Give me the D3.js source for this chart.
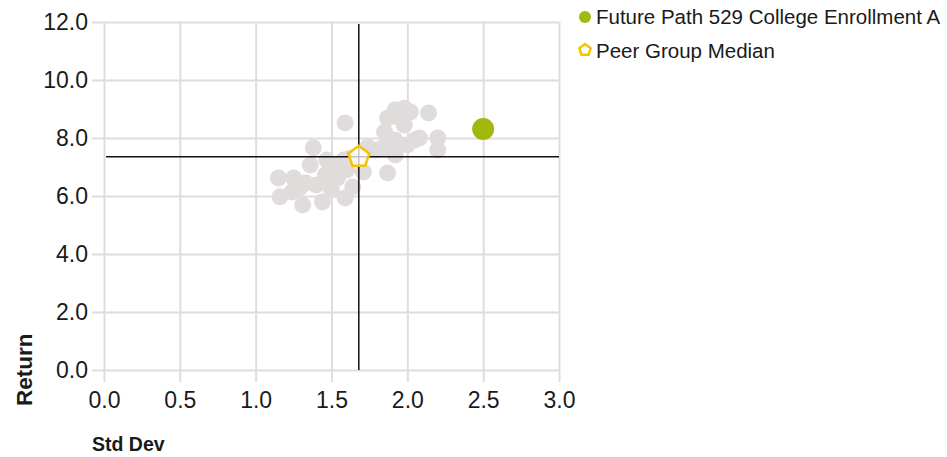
<!DOCTYPE html>
<html>
<head>
<meta charset="utf-8">
<script src="https://cdn.jsdelivr.net/npm/d3@7"></script>
<style>
  html, body { margin: 0; padding: 0; background: #fff; }
  svg text { font-family: "Liberation Sans", Arial, Helvetica, sans-serif; fill: #1a1a1a; }
</style>
</head>
<body>
<svg id="chart" width="947" height="457"></svg>
<script>
// Risk / return scatter: peer funds, the fund itself, and the peer median.
const xTicks = [0.0, 0.5, 1.0, 1.5, 2.0, 2.5, 3.0];
const yTicks = [0.0, 2.0, 4.0, 6.0, 8.0, 10.0, 12.0];

const peerStdDev = [
  2.14, 2.20, 2.20, 1.87, 2.08, 1.92, 1.98, 1.95, 1.87, 1.85, 1.92, 1.91, 2.00, 1.84,
  1.79, 1.92, 2.05, 2.02, 1.98, 1.74, 1.71, 1.64, 1.59, 1.47, 1.51, 1.50, 1.59, 1.60,
  1.38, 1.36, 1.15, 1.25, 1.16, 1.24, 1.31, 1.29, 1.40, 1.44, 1.54, 1.46, 1.58, 1.33,
  1.55, 1.62
];
const peerReturn = [
  8.86, 8.00, 7.59, 6.79, 8.00, 8.97, 9.03, 8.69, 8.69, 8.21, 7.93, 7.52, 7.76, 7.66,
  7.59, 7.41, 7.93, 8.90, 8.45, 7.69, 6.83, 6.31, 8.52, 7.24, 6.79, 6.21, 5.93, 6.90,
  7.66, 7.07, 6.62, 6.62, 5.97, 6.14, 5.69, 6.28, 6.38, 5.79, 6.62, 6.72, 7.24, 6.45,
  7.05, 7.30
];

const fundName = "Future Path 529 College Enrollment A";
const fundStdDev = 2.50;
const fundReturn = 8.31;

const medianName = "Peer Group Median";
const medianStdDev = 1.68;
const medianReturn = 7.35;

const svg = d3.select("#chart");
const margin = { left: 104, top: 22, right: 388, bottom: 87 };
const W = 947, H = 457;

const x = d3.scaleLinear().domain([0, 3]).range([margin.left, W - margin.right]);
const y = d3.scaleLinear().domain([0, 12]).range([H - margin.bottom, margin.top]);

const gridColor = "#dddddd";
const tickOut = 12;

// Gridlines extend past the plot as tick marks
const xAxis = d3.axisBottom(x).tickValues(xTicks).tickFormat(d3.format(".1f"))
  .tickSize(-(y(0) - y(12)) - tickOut).tickSizeOuter(0).tickPadding(10);
svg.append("g")
  .attr("transform", `translate(0,${y(0) + tickOut})`)
  .call(xAxis)
  .call(g => g.select(".domain").remove())
  .call(g => g.selectAll("line").attr("stroke", gridColor).attr("stroke-width", 2))
  .call(g => g.selectAll("text").attr("font-size", 23).attr("fill", "#1a1a1a"));

const yAxis = d3.axisLeft(y).tickValues(yTicks).tickFormat(d3.format(".1f"))
  .tickSize(-(x(3) - x(0)) - tickOut).tickSizeOuter(0).tickPadding(4);
svg.append("g")
  .attr("transform", `translate(${x(0) - tickOut},0)`)
  .call(yAxis)
  .call(g => g.select(".domain").remove())
  .call(g => g.selectAll("line").attr("stroke", gridColor).attr("stroke-width", 2))
  .call(g => g.selectAll("text").attr("font-size", 23).attr("fill", "#1a1a1a"));

// Axis titles
svg.append("text")
  .attr("x", 92).attr("y", 451)
  .attr("font-size", 19.5).attr("font-weight", "bold")
  .text("Std Dev");
svg.append("text")
  .attr("transform", `translate(32,406) rotate(-90)`)
  .attr("font-size", 22.5).attr("font-weight", "bold")
  .text("Return");

// Peer funds
const peers = peerStdDev.map((s, i) => ({ s, r: peerReturn[i] }));
svg.append("g").selectAll("circle").data(peers).join("circle")
  .attr("cx", d => x(d.s)).attr("cy", d => y(d.r)).attr("r", 8.5)
  .attr("fill", "#e0dcdb");

// Median crosshair
svg.append("line")
  .attr("x1", x(medianStdDev)).attr("x2", x(medianStdDev))
  .attr("y1", y(12) + 2).attr("y2", y(0))
  .attr("stroke", "#111").attr("stroke-width", 1.5);
svg.append("line")
  .attr("x1", x(0) + 2).attr("x2", x(3))
  .attr("y1", y(medianReturn)).attr("y2", y(medianReturn))
  .attr("stroke", "#111").attr("stroke-width", 1.5);

// Pentagon symbol for the median
function pentagon(r) {
  const pts = d3.range(5).map(i => {
    const a = -Math.PI / 2 + i * 2 * Math.PI / 5;
    return [r * Math.cos(a), r * Math.sin(a)];
  });
  return "M" + pts.map(p => p.join(",")).join("L") + "Z";
}

// Fund point
svg.append("circle")
  .attr("cx", x(fundStdDev)).attr("cy", y(fundReturn)).attr("r", 11)
  .attr("fill", "#a2b80c");

// Median point
svg.append("path")
  .attr("d", pentagon(11))
  .attr("transform", `translate(${x(medianStdDev)},${y(medianReturn)})`)
  .attr("fill", "#ffffff").attr("fill-opacity", 0.75)
  .attr("stroke", "#f5c400").attr("stroke-width", 2.5);

// Legend
const legend = svg.append("g").attr("transform", "translate(585,0)");
legend.append("circle").attr("cx", 0).attr("cy", 17).attr("r", 6).attr("fill", "#a2b80c");
legend.append("text").attr("x", 11).attr("y", 24).attr("font-size", 20.5).text(fundName);
legend.append("path").attr("d", pentagon(6))
  .attr("transform", "translate(0,50)")
  .attr("fill", "#fff").attr("stroke", "#f5c400").attr("stroke-width", 2.5);
legend.append("text").attr("x", 11).attr("y", 58).attr("font-size", 20.5).text(medianName);
</script>
</body>
</html>
